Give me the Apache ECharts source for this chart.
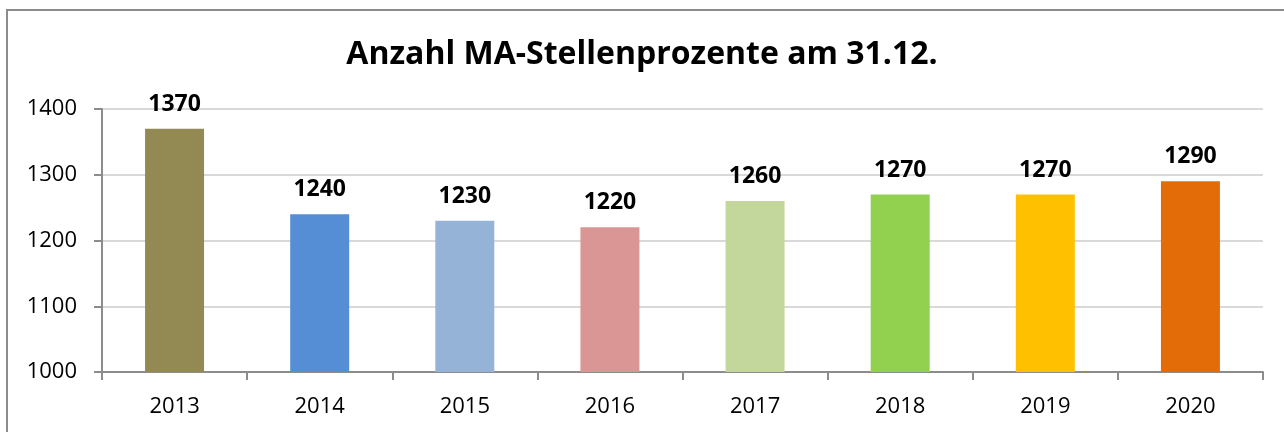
<!DOCTYPE html>
<html><head><meta charset="utf-8">
<script src="https://cdn.jsdelivr.net/npm/echarts@6/dist/echarts.min.js"></script>
<style>html,body{margin:0;padding:0;background:#fff}#c{width:1284px;height:432px}</style>
</head><body><div id="c"></div>
<script>
const categories = ['2013','2014','2015','2016','2017','2018','2019','2020'];
const values = [1370,1240,1230,1220,1260,1270,1270,1290];
const barColors = ['#938953','#558ED5','#95B3D7','#D99694','#C3D69B','#92D050','#FFC000','#E36C09'];
const yTicks = [1000,1100,1200,1300,1400];
const titleText = 'Anzahl MA-Stellenprozente am 31.12.';
const FONT = 'Open Sans';
const chart = echarts.init(document.getElementById('c'));
chart.setOption({
  animation:false,
  title:{text:titleText,left:'center',top:34,textStyle:{fontFamily:FONT,fontSize:32,fontWeight:'bold',color:'#000'}},
  graphic:[{type:'rect',shape:{x:7,y:10,width:1400,height:600},style:{fill:null,stroke:'#8c8c8c',lineWidth:2},silent:true}],
  grid:{left:102,right:21,top:109,bottom:60,containLabel:false},
  xAxis:{type:'category',data:categories,
    axisLine:{lineStyle:{color:'#8c8c8c',width:2}},
    axisTick:{show:true,length:8,lineStyle:{color:'#8c8c8c',width:2}},
    axisLabel:{fontFamily:FONT,fontSize:22,color:'#000',margin:24}},
  yAxis:{type:'value',min:yTicks[0],max:yTicks[yTicks.length-1],interval:100,
    axisLine:{show:true,lineStyle:{color:'#8c8c8c',width:2}},
    axisTick:{show:true,length:8,lineStyle:{color:'#8c8c8c',width:2}},
    splitLine:{lineStyle:{color:'#d9d9d9',width:2}},
    axisLabel:{fontFamily:FONT,fontSize:22,color:'#000',margin:25,formatter:v=>String(v)}},
  series:[{type:'bar',barWidth:59,
    data:values.map((v,i)=>({value:v,itemStyle:{color:barColors[i]}})),
    label:{show:true,position:'top',distance:13,fontFamily:FONT,fontSize:23,fontWeight:'bold',color:'#000'}}]
});
</script></body></html>
